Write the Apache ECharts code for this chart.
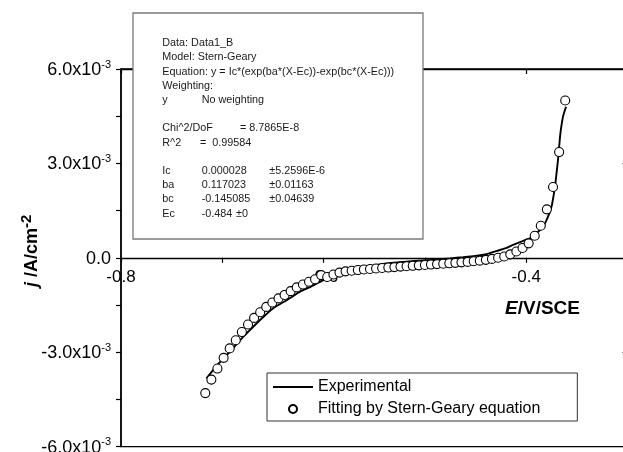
<!DOCTYPE html>
<html>
<head>
<meta charset="utf-8">
<script src="https://cdn.jsdelivr.net/npm/echarts@6/dist/echarts.min.js"></script>
<style>html,body{margin:0;padding:0;background:#fff;}#c{width:623px;height:452px;}</style>
</head>
<body>
<div id="c"></div>
<script>
// ---- data ----
const fitE = [-0.7168,-0.7108,-0.7048,-0.6987,-0.6927,-0.6867,-0.6807,-0.6746,-0.6686,-0.6626,
  -0.6566,-0.6506,-0.6445,-0.6385,-0.6325,-0.6265,-0.6204,-0.6144,-0.6084,-0.6024,
  -0.5964,-0.5903,-0.5843,-0.5783,-0.5723,-0.5662,-0.5602,-0.5542,-0.5482,-0.5422,
  -0.5361,-0.5301,-0.5241,-0.5181,-0.5120,-0.5060,-0.5000,-0.4940,-0.4880,-0.4819,
  -0.4759,-0.4699,-0.4639,-0.4578,-0.4518,-0.4458,-0.4398,-0.4338,-0.4277,-0.4217,
  -0.4157,-0.4097,-0.4036,-0.3976,-0.3916,-0.3856,-0.3796,-0.3735,-0.3675,-0.3615];
const fitJ = [-4.30e-3,-3.87e-3,-3.52e-3,-3.18e-3,-2.88e-3,-2.62e-3,-2.36e-3,-2.12e-3,-1.91e-3,-1.73e-3,
  -1.56e-3,-1.42e-3,-1.29e-3,-1.18e-3,-1.06e-3,-0.94e-3,-0.85e-3,-0.76e-3,-0.68e-3,-0.55e-3,
  -0.61e-3,-0.53e-3,-0.47e-3,-0.43e-3,-0.41e-3,-0.39e-3,-0.37e-3,-0.355e-3,-0.34e-3,-0.325e-3,
  -0.31e-3,-0.295e-3,-0.28e-3,-0.27e-3,-0.255e-3,-0.24e-3,-0.23e-3,-0.215e-3,-0.20e-3,-0.19e-3,
  -0.175e-3,-0.16e-3,-0.145e-3,-0.13e-3,-0.11e-3,-0.09e-3,-0.065e-3,-0.035e-3,0.0,0.04e-3,
  0.11e-3,0.20e-3,0.31e-3,0.46e-3,0.70e-3,1.02e-3,1.54e-3,2.25e-3,3.36e-3,5.00e-3];
const expE = [-0.7156,-0.7042,-0.6924,-0.6796,-0.6697,-0.6598,-0.6500,-0.6361,-0.6233,-0.6134,
  -0.6006,-0.5887,-0.5759,-0.5621,-0.5443,-0.5275,-0.5098,-0.4950,-0.4752,-0.4624,
  -0.4505,-0.4406,-0.4288,-0.4209,-0.4130,-0.4042,-0.3982,-0.3933,-0.3884,-0.3854,
  -0.3824,-0.3794,-0.3770,-0.3748,-0.3730,-0.3716,-0.3699,-0.3683,-0.3666,-0.3652,
  -0.3634,-0.3607];
const expJ = [-3.83e-3,-3.38e-3,-2.98e-3,-2.52e-3,-2.20e-3,-1.89e-3,-1.61e-3,-1.34e-3,-1.08e-3,-0.93e-3,
  -0.72e-3,-0.57e-3,-0.42e-3,-0.31e-3,-0.21e-3,-0.15e-3,-0.10e-3,-0.07e-3,-0.02e-3,0.02e-3,
  0.06e-3,0.105e-3,0.22e-3,0.30e-3,0.41e-3,0.52e-3,0.60e-3,0.67e-3,0.82e-3,0.92e-3,
  1.04e-3,1.24e-3,1.43e-3,1.65e-3,1.97e-3,2.25e-3,2.73e-3,3.21e-3,3.85e-3,4.20e-3,
  4.52e-3,4.80e-3];
const xTickLabels = ['-0.8','-0.6','-0.4'];
const yTickLabels = {'-6': '-6.0x10', '-3': '-3.0x10', '0': '0.0', '3': '3.0x10', '6': '6.0x10'};
const seriesNames = ['Experimental', 'Fitting by Stern-Geary equation'];
const boxLines = [
  ['Data: Data1_B', 0], ['Model: Stern-Geary', 1],
  ['Equation: y = Ic*(exp(ba*(X-Ec))-exp(bc*(X-Ec)))', 2], ['Weighting:', 3],
  ['y', 4], ['Chi^2/DoF', 6], ['R^2', 7], ['Ic', 9], ['ba', 10], ['bc', 11], ['Ec', 12]
];
const boxCol2 = [
  ['No weighting', 4, 201.7], ['= 8.7865E-8', 6, 240], ['=  0.99584', 7, 200],
  ['0.000028', 9, 201.7], ['0.117023', 10, 201.7], ['-0.145085', 11, 201.7], ['-0.484', 12, 201.7],
  ['\u00b15.2596E-6', 9, 269.3], ['\u00b10.01163', 10, 269.3], ['\u00b10.04639', 11, 269.3], ['\u00b10', 12, 236]
];

const FONT = 'Liberation Sans, Arial, Helvetica, sans-serif';
const chart = echarts.init(document.getElementById('c'), null, {renderer: 'canvas'});

const boxTexts = [];
const lineY = k => 43.3 + 14.2 * k;
boxLines.forEach(([t, k]) => boxTexts.push({
  type: 'text', x: 162.3, y: lineY(k), z: 101,
  style: {text: t, fill: '#1a1a1a', font: '10.8px ' + FONT, textVerticalAlign: 'middle'}
}));
boxCol2.forEach(([t, k, x]) => boxTexts.push({
  type: 'text', x: x, y: lineY(k), z: 101,
  style: {text: t, fill: '#1a1a1a', font: '10.8px ' + FONT, textVerticalAlign: 'middle'}
}));

const GH = 377.6;
const option = {
  animation: false,
  backgroundColor: '#fff',
  grid: {left: 121, top: 69, width: 506.5, height: GH, show: true,
    containLabel: false, outerBoundsMode: 'none',
    borderColor: '#000', borderWidth: 1.3, backgroundColor: 'transparent'},
  legend: {
    orient: 'vertical', left: 267, top: 373,
    data: [
      {name: seriesNames[0], itemStyle: {opacity: 0}},
      {name: seriesNames[1]}
    ],
    itemWidth: 40, itemHeight: 8, itemGap: 4,
    padding: [5, 37, 3, 5],
    borderColor: '#333', borderWidth: 1, backgroundColor: '#fff',
    textStyle: {fontSize: 16, fontFamily: FONT, color: '#000', lineHeight: 18},
    selectedMode: false
  },
  xAxis: [{
    type: 'value', min: -0.8, max: -0.3, interval: 0.1,
    position: 'bottom', offset: -GH / 2,
    axisLine: {onZero: false, lineStyle: {color: '#000', width: 1.3}},
    axisTick: {show: true, inside: false, length: 5, lineStyle: {color: '#000', width: 1.2}},
    splitLine: {show: false},
    axisLabel: {
      margin: 11, fontSize: 17, fontFamily: FONT, color: '#000',
      formatter: v => xTickLabels.indexOf(v.toFixed(1)) >= 0 ? v.toFixed(1) : ''
    }
  }, {
    type: 'value', position: 'top', min: -0.8, max: -0.3, interval: 0.2,
    axisLine: {show: true, onZero: false, lineStyle: {color: '#000', width: 1.3}},
    axisTick: {show: true, inside: true, length: 5, lineStyle: {color: '#000', width: 1.2}},
    axisLabel: {show: false}, splitLine: {show: false}
  }],
  yAxis: [{
    type: 'value', min: -0.006, max: 0.006, interval: 0.003,
    axisLine: {show: true, onZero: false, lineStyle: {color: '#000', width: 1.5}},
    axisTick: {show: true, inside: false, length: 5, lineStyle: {color: '#000', width: 1.2}},
    minorTick: {show: true, splitNumber: 2, length: 5, lineStyle: {color: '#000', width: 1.2}},
    splitLine: {show: false}, minorSplitLine: {show: false},
    axisLabel: {
      margin: 10, fontFamily: FONT, color: '#000',
      formatter: v => {
        const key = String(Math.round(v * 1000));
        const base = yTickLabels[key];
        if (key === '0') return '{b|' + base + '}';
        return '{b|' + base + '}{s|-3}';
      },
      rich: {
        b: {fontSize: 18, fontFamily: FONT, color: '#000', lineHeight: 20, verticalAlign: 'bottom'},
        s: {fontSize: 11, fontFamily: FONT, color: '#000', lineHeight: 20, verticalAlign: 'top', padding: [0, 0, 10, 0]}
      }
    },
    name: '{i|j}{b| /A/cm}{s|-2}',
    nameLocation: 'middle', nameRotate: 90, nameGap: 80, nameMoveOverlap: false,
    nameTextStyle: {
      padding: [0, 0, 0, 14],
      rich: {
        i: {fontSize: 18, fontWeight: 'bold', fontStyle: 'italic', fontFamily: FONT, color: '#000', lineHeight: 22, verticalAlign: 'bottom'},
        b: {fontSize: 18, fontWeight: 'bold', fontFamily: FONT, color: '#000', lineHeight: 22, verticalAlign: 'bottom'},
        s: {fontSize: 15, fontWeight: 'bold', fontFamily: FONT, color: '#000', lineHeight: 22, verticalAlign: 'top', padding: [0, 0, 10, 0]}
      }
    }
  }, {
    type: 'value', position: 'right', min: -0.006, max: 0.006, interval: 0.003,
    axisLine: {show: true, onZero: false, lineStyle: {color: '#000', width: 1.3}},
    axisTick: {show: true, inside: true, length: 5, lineStyle: {color: '#000', width: 1.2}},
    axisLabel: {show: false}, splitLine: {show: false}
  }],
  series: [{
    name: seriesNames[0], type: 'line', xAxisIndex: 0, yAxisIndex: 0,
    data: expE.map((e, i) => [e, expJ[i]]),
    symbol: 'none', showSymbol: false, smooth: 0.2,
    lineStyle: {color: '#000', width: 1.9}, itemStyle: {color: '#000'}, z: 3
  }, {
    name: seriesNames[1], type: 'scatter', xAxisIndex: 0, yAxisIndex: 0,
    data: fitE.map((e, i) => [e, fitJ[i]]),
    symbol: 'circle', symbolSize: 9,
    itemStyle: {color: '#fff', borderColor: '#000', borderWidth: 1.1, opacity: 1}, z: 4
  }],
  graphic: {elements: [
    {type: 'rect', z: 100, shape: {x: 133, y: 13, width: 290, height: 226},
     style: {fill: '#fff', stroke: '#7a7a7a', lineWidth: 1.3}},
    ...boxTexts,
    {type: 'text', x: 542.5, y: 308.5, z: 50,
     style: {rich: {
       i: {fontSize: 19, fontWeight: 'bold', fontStyle: 'italic', fontFamily: FONT, fill: '#000'},
       b: {fontSize: 19, fontWeight: 'bold', fontFamily: FONT, fill: '#000'}},
       text: '{i|E}{b|/V/SCE}', textAlign: 'center', textVerticalAlign: 'middle'}}
  ]}
};
chart.setOption(option);
</script>
</body>
</html>
